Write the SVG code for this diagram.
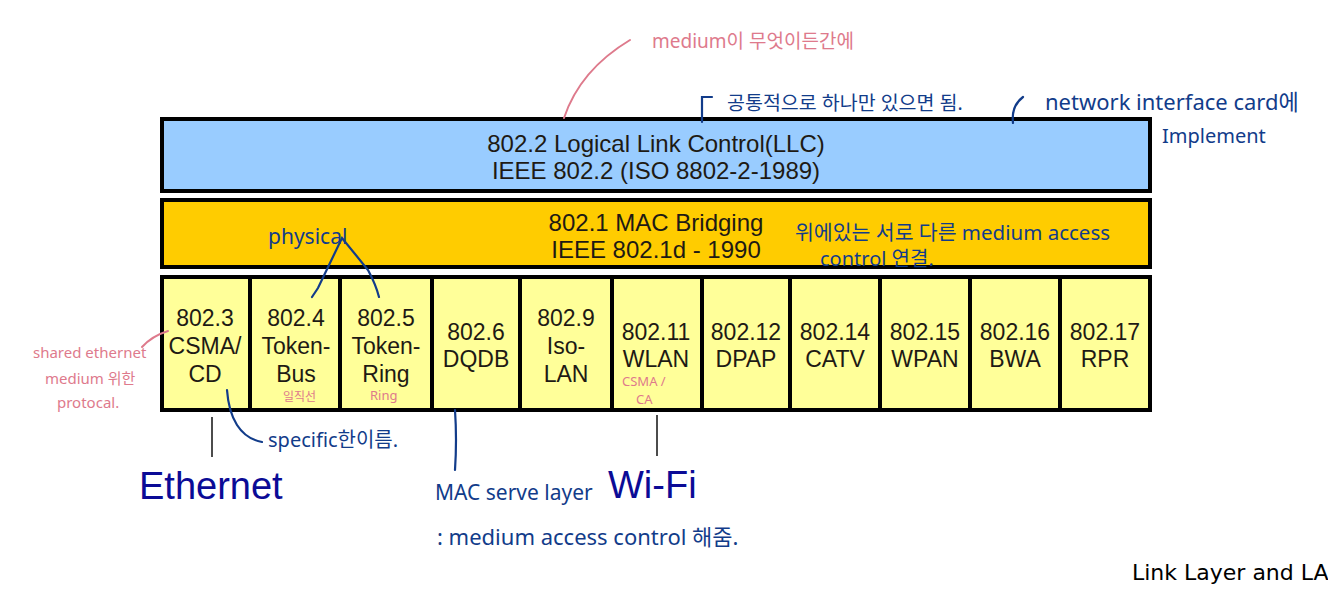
<svg xmlns="http://www.w3.org/2000/svg" width="1328" height="589" viewBox="0 0 1328 589">
<style>
.box{stroke:#000;stroke-width:4}
.cell{fill:#ffff99;stroke:#000;stroke-width:4}
.bt{font-family:"Liberation Sans",Arial,sans-serif;font-size:24px;fill:#1e1a14;text-anchor:middle}
.ct{font-family:"Liberation Sans",Arial,sans-serif;font-size:23px;fill:#1e1a14;text-anchor:middle}
.big{font-family:"Liberation Sans",Arial,sans-serif;font-size:38px;fill:#0b0b96}
.hb{font-family:"Noto Sans","Noto Sans CJK KR",sans-serif;fill:#123c8a}
.hp{font-family:"Noto Sans","Noto Sans CJK KR",sans-serif;fill:#de7a8c}
.lb{fill:none;stroke:#123c8a;stroke-width:2.2;stroke-linecap:round}
.lp{fill:none;stroke:#de7a8c;stroke-width:2;stroke-linecap:round}
.lk{fill:none;stroke:#111;stroke-width:1.5}
</style>
<rect width="1328" height="589" fill="#fff"/>
<g id="llc">
<rect class="box" x="162" y="119" width="988" height="72" fill="#99ccff"/>
<text class="bt" x="656" y="152">802.2 Logical Link Control(LLC)</text>
<text class="bt" x="656" y="179">IEEE 802.2 (ISO 8802-2-1989)</text>
</g>
<g id="mac">
<rect class="box" x="162" y="200" width="988" height="67" fill="#ffcc00"/>
<text class="bt" x="656" y="231">802.1 MAC Bridging</text>
<text class="bt" x="656" y="258">IEEE 802.1d - 1990</text>
</g>
<g id="c8023"><rect class="cell" x="162" y="277" width="88" height="133"/><text class="ct"><tspan x="205" y="326">802.3</tspan><tspan x="205" y="354">CSMA/</tspan><tspan x="205" y="382">CD</tspan></text></g>
<g id="c8024"><rect class="cell" x="250" y="277" width="90" height="133"/><text class="ct"><tspan x="296" y="326">802.4</tspan><tspan x="296" y="354">Token-</tspan><tspan x="296" y="382">Bus</tspan></text></g>
<g id="c8025"><rect class="cell" x="340" y="277" width="92" height="133"/><text class="ct"><tspan x="386" y="326">802.5</tspan><tspan x="386" y="354">Token-</tspan><tspan x="386" y="382">Ring</tspan></text></g>
<g id="c8026"><rect class="cell" x="432" y="277" width="88" height="133"/><text class="ct"><tspan x="476" y="340">802.6</tspan><tspan x="476" y="367">DQDB</tspan></text></g>
<g id="c8029"><rect class="cell" x="520" y="277" width="92" height="133"/><text class="ct"><tspan x="566" y="326">802.9</tspan><tspan x="566" y="354">Iso-</tspan><tspan x="566" y="382">LAN</tspan></text></g>
<g id="c80211"><rect class="cell" x="612" y="277" width="90" height="133"/><text class="ct"><tspan x="656" y="340">802.11</tspan><tspan x="656" y="367">WLAN</tspan></text></g>
<g id="c80212"><rect class="cell" x="702" y="277" width="88" height="133"/><text class="ct"><tspan x="746" y="340">802.12</tspan><tspan x="746" y="367">DPAP</tspan></text></g>
<g id="c80214"><rect class="cell" x="790" y="277" width="90" height="133"/><text class="ct"><tspan x="835" y="340">802.14</tspan><tspan x="835" y="367">CATV</tspan></text></g>
<g id="c80215"><rect class="cell" x="880" y="277" width="90" height="133"/><text class="ct"><tspan x="925" y="340">802.15</tspan><tspan x="925" y="367">WPAN</tspan></text></g>
<g id="c80216"><rect class="cell" x="970" y="277" width="90" height="133"/><text class="ct"><tspan x="1015" y="340">802.16</tspan><tspan x="1015" y="367">BWA</tspan></text></g>
<g id="c80217"><rect class="cell" x="1060" y="277" width="90" height="133"/><text class="ct"><tspan x="1105" y="340">802.17</tspan><tspan x="1105" y="367">RPR</tspan></text></g>
<g id="connectors">
<path class="lp" d="M630,40 Q580,70 564,118"/>
<path class="lb" d="M712,97 L702,97 L702,122"/>
<path class="lb" d="M1023,97 Q1011,106 1013,123"/>
<path class="lb" d="M312,297 Q316,291 318,288 L342,238 L368,270 Q376,285 379,297"/>
<path class="lp" d="M142,347 Q152,336 168,331"/>
<path class="lb" d="M227,390 C229,418 240,438 262,442"/>
<path class="lb" d="M455,410 Q457,440 455,470"/>
<path class="lk" d="M212,417 V457"/>
<path class="lk" d="M657,415 V456"/>
</g>
<g id="annotations">
<text class="hp" x="652" y="48" font-size="19">medium이 무엇이든간에</text>
<text class="hb" x="727" y="110" font-size="19.5">공통적으로 하나만 있으면 됨.</text>
<text class="hb" x="1045" y="110" font-size="22">network interface card에</text>
<text class="hb" x="1162" y="143" font-size="20">Implement</text>
<text class="hb" x="268" y="244" font-size="21">physical</text>
<text class="hb" x="795" y="240" font-size="20.5">위에있는 서로 다른 medium access</text>
<text class="hb" x="820" y="266" font-size="20">control 연결.</text>
<text class="hp" x="33" y="358" font-size="15">shared ethernet</text>
<text class="hp" x="45" y="384" font-size="15">medium 위한</text>
<text class="hp" x="57" y="408" font-size="15">protocal.</text>
<text class="hp" x="283" y="401" font-size="12">일직선</text>
<text class="hp" x="370" y="400" font-size="13">Ring</text>
<text class="hp" x="622" y="386" font-size="13">CSMA /</text>
<text class="hp" x="636" y="404" font-size="13">CA</text>
<text class="hb" x="268" y="447" font-size="20">specific한이름.</text>
<text class="hb" x="435" y="500" font-size="21">MAC serve layer</text>
<text class="hb" x="437" y="545" font-size="22">: medium access control 해줌.</text>
</g>
<g id="labels">
<text class="big" x="139" y="499">Ethernet</text>
<text class="big" x="608" y="498">Wi-Fi</text>
<text x="1132" y="580" font-family="'DejaVu Sans',Verdana,sans-serif" font-size="22" fill="#000">Link Layer and LA</text>
</g>
</svg>
